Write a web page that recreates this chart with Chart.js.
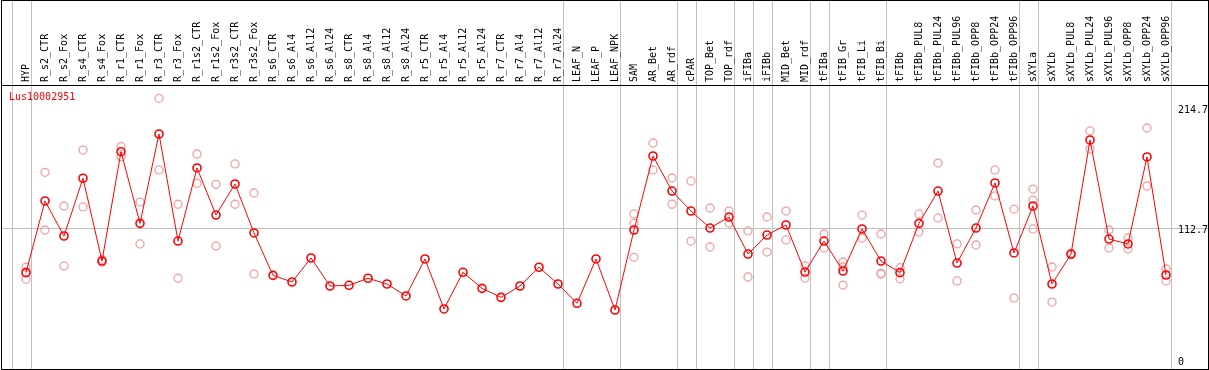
<!DOCTYPE html>
<html>
<head>
<meta charset="utf-8">
<script src="https://cdn.jsdelivr.net/npm/chart.js@4/dist/chart.umd.min.js"></script>
<style>
  html, body { margin: 0; padding: 0; background: #fff; }
  #wrap { width: 1209px; height: 370px; }
</style>
</head>
<body>
<div id="wrap"><canvas id="chart" width="1209" height="370"></canvas></div>
<script>
// ---- Data ----
const geneId = 'Lus10002951';

const categories = [
  'HYP', 'R_s2_CTR', 'R_s2_Fox', 'R_s4_CTR', 'R_s4_Fox', 'R_r1_CTR', 'R_r1_Fox',
  'R_r3_CTR', 'R_r3_Fox', 'R_r1s2_CTR', 'R_r1s2_Fox', 'R_r3s2_CTR', 'R_r3s2_Fox',
  'R_s6_CTR', 'R_s6_Al4', 'R_s6_Al12', 'R_s6_Al24', 'R_s8_CTR', 'R_s8_Al4',
  'R_s8_Al12', 'R_s8_Al24', 'R_r5_CTR', 'R_r5_Al4', 'R_r5_Al12', 'R_r5_Al24',
  'R_r7_CTR', 'R_r7_Al4', 'R_r7_Al12', 'R_r7_Al24', 'LEAF_N', 'LEAF_P', 'LEAF_NPK',
  'SAM', 'AR_Bet', 'AR_rdf', 'cPAR', 'TOP_Bet', 'TOP_rdf', 'iFIBa', 'iFIBb',
  'MID_Bet', 'MID_rdf', 'tFIBa', 'tFIB_Gr', 'tFIB_Li', 'tFIB_Bi', 'tFIBb',
  'tFIBb_PUL8', 'tFIBb_PUL24', 'tFIBb_PUL96', 'tFIBb_OPP8', 'tFIBb_OPP24', 'tFIBb_OPP96',
  'sXYLa', 'sXYLb', 'sXYLb_PUL8', 'sXYLb_PUL24', 'sXYLb_PUL96', 'sXYLb_OPP8',
  'sXYLb_OPP24', 'sXYLb_OPP96'
];

// mean expression per sample
const meanValues = [
  74.6, 135.8, 105.9, 155.2, 84.5, 177.9, 116.7, 193.0, 101.6, 164.0, 123.8, 150.3, 108.5,
  72.3, 66.6, 87.1, 63.2, 63.8, 69.8, 64.9, 54.7, 86.3, 43.6, 74.9, 61.2,
  53.5, 63.2, 79.2, 64.9, 48.4, 86.3, 42.7,
  111.0, 174.2, 144.3, 127.2, 112.7, 122.1, 90.5, 106.7, 115.3, 75.1, 101.6,
  76.0, 111.9, 84.5, 74.6, 116.7, 144.3, 82.8, 112.7, 151.2, 91.4,
  131.5, 64.9, 90.5, 187.9, 103.3, 99.1, 173.4, 72.6
];

// individual replicates (null where none is shown)
const rep1 = [
  79.2, 160.3, 131.5, 179.3, 86.0, 182.2, 134.9, 223.5, 133.0, 175.9, 150.0, 167.4, 142.6,
  null, null, null, null, null, null, null, null, null, null, null, null,
  null, null, null, null, null, null, null,
  124.7, 185.3, 155.4, 152.9, 129.8, 127.2, 110.2, 122.1, 127.2, 80.3, 107.6,
  83.7, 123.8, 107.6, 78.8, 124.7, 168.2, 99.1, 128.1, 162.3, 128.9,
  146.0, 79.4, 91.1, 195.6, 111.0, 104.2, 198.1, 77.7
];
const rep2 = [
  68.9, 111.0, 80.3, 130.7, 83.7, 173.6, 99.1, 162.3, 69.8, 150.9, 97.4, 133.0, 73.4,
  null, null, null, null, null, null, null, null, null, null, null, null,
  null, null, null, null, null, null, null,
  87.7, 162.3, 133.0, 101.6, 96.5, 117.0, 70.9, 92.2, 102.5, 70.0, 95.6,
  64.0, 104.2, 74.0, 69.4, 109.3, 121.3, 67.5, 98.2, 140.1, 52.9,
  111.9, 49.5, 89.7, 180.2, 95.6, 94.8, 148.6, 67.5
];
const rep3 = [
  75.2, null, null, null, null, null, null, null, null, null, null, null, null,
  null, null, null, null, null, null, null, null, null, null, null, null,
  null, null, null, null, null, null, null,
  116.7, null, null, null, null, null, null, null, null, null, null,
  79.4, null, 73.4, null, null, null, null, null, null, null,
  136.6, null, null, null, null, null, null, null
];

const yTicks = [0, 112.7, 214.7];
const gridValue = 112.7;
// last sample index of each group (separator drawn just right of it)
const groupEnds = [-1, 0, 28, 31, 34, 35, 37, 38, 39, 41, 42, 45, 52, 53, 60];

// ---- Helpers ----
const toPoints = (arr) => arr
  .map((v, i) => (v === null ? null : { x: i, y: v }))
  .filter(p => p !== null);

const MONO = '10px "DejaVu Sans Mono", monospace';
const HEADER_H = 85;

// background decorations: group separators, grid line, frame
const frameGrid = {
  id: 'frameGrid',
  beforeDatasetsDraw(chart) {
    const { ctx, chartArea, scales: { x, y } } = chart;
    ctx.save();
    ctx.lineWidth = 1;
    ctx.strokeStyle = '#c0c0c0';
    groupEnds.forEach(g => {
      const px = Math.round(x.getPixelForValue(g + 0.24)) + 0.5;
      ctx.beginPath();
      ctx.moveTo(px, 0);
      ctx.lineTo(px, chartArea.bottom);
      ctx.stroke();
    });
    const gy = Math.round(y.getPixelForValue(gridValue)) + 0.5;
    ctx.beginPath();
    ctx.moveTo(chartArea.left, gy);
    ctx.lineTo(chartArea.right, gy);
    ctx.stroke();
    ctx.restore();
  },
  afterDraw(chart) {
    const { ctx, chartArea, scales: { x, y } } = chart;
    ctx.save();
    // frame + header divider
    ctx.strokeStyle = '#000';
    ctx.lineWidth = 1;
    ctx.strokeRect(1.5, 0.5, 1207, chartArea.bottom);
    ctx.beginPath();
    ctx.moveTo(1, HEADER_H + 0.5);
    ctx.lineTo(1209, HEADER_H + 0.5);
    ctx.stroke();

    // sample names, rotated, reading bottom to top
    ctx.font = MONO;
    ctx.fillStyle = '#000';
    ctx.textAlign = 'left';
    ctx.textBaseline = 'middle';
    categories.forEach((name, i) => {
      const px = x.getPixelForValue(i);
      ctx.save();
      ctx.translate(px, HEADER_H - 3);
      ctx.rotate(-Math.PI / 2);
      ctx.fillText(name, 0, 0);
      ctx.restore();
    });

    // value labels on the right
    ctx.textBaseline = 'middle';
    yTicks.forEach(t => {
      const py = y.getPixelForValue(t);
      ctx.fillText(String(t), 1178, Math.min(py + 2, chartArea.bottom - 7));
    });

    // gene id
    ctx.fillStyle = '#ff0000';
    ctx.fillText(geneId, 9, 97.5);
    ctx.restore();
  }
};

const repStyle = {
  type: 'scatter',
  showLine: false,
  pointRadius: 4,
  pointHoverRadius: 4,
  pointBorderWidth: 1.3,
  pointBorderColor: '#f2a0a0',
  pointBackgroundColor: 'rgba(0,0,0,0)',
  order: 2
};

new Chart(document.getElementById('chart'), {
  type: 'line',
  data: {
    datasets: [
      {
        label: geneId,
        data: toPoints(meanValues),
        borderColor: '#ff0000',
        borderWidth: 1,
        pointRadius: 4,
        pointHoverRadius: 4,
        pointBorderWidth: 1.6,
        pointBorderColor: '#ff0000',
        pointBackgroundColor: 'rgba(0,0,0,0)',
        tension: 0,
        order: 0
      },
      { ...repStyle, label: 'rep1', data: toPoints(rep1) },
      { ...repStyle, label: 'rep2', data: toPoints(rep2) },
      { ...repStyle, label: 'rep3', data: toPoints(rep3) }
    ]
  },
  options: {
    responsive: false,
    animation: false,
    events: [],
    layout: { autoPadding: false, padding: { top: HEADER_H, bottom: 1, left: 1, right: 1 } },
    scales: {
      x: { type: 'linear', display: false, min: -1.3158, max: 62.2105 },
      y: { type: 'linear', display: false, min: -7.686, max: 234.84 }
    },
    plugins: {
      legend: { display: false },
      tooltip: { enabled: false }
    }
  },
  plugins: [frameGrid]
});
</script>
</body>
</html>
